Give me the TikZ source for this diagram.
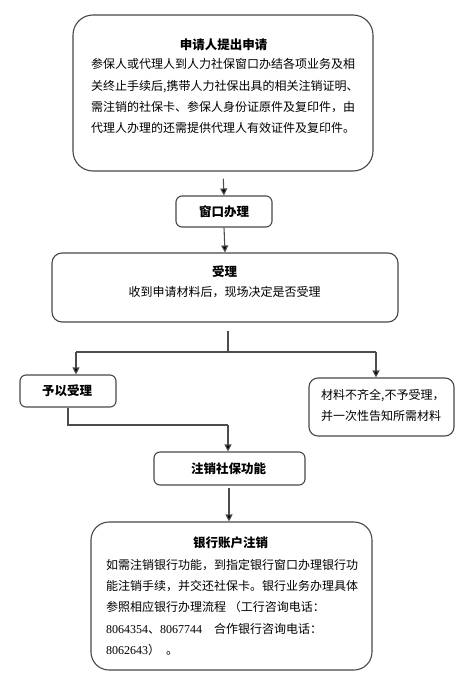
\documentclass[tikz,border=0pt]{standalone}
\usepackage{fontspec}
\setmainfont{Liberation Serif}
\newfontfamily\cjk{Noto Sans CJK SC}
\newfontfamily\tnr{Liberation Serif}
\usetikzlibrary{arrows.meta}
\tikzset{
  box/.style={draw=black!72, line width=1.1bp, rounded corners=#1, inner sep=0pt, fill=white},
  box/.default=6bp,
  arr/.style={draw=black!70, line width=1.1bp, -{Triangle[width=7bp,length=7bp,fill=black]}},
  ln/.style={draw=black!70, line width=1.1bp},
  txt/.style={inner sep=0pt, font=\cjk\fontsize{12bp}{21.3bp}\selectfont, align=left},
  ttl/.style={inner sep=0pt, font=\cjk\bfseries\fontsize{12.5bp}{15bp}\selectfont},
}
\begin{document}
\begin{tikzpicture}[x=1bp,y=-1bp]
\useasboundingbox (0,0) rectangle (468,687);
% boxes
\node[box=20bp, minimum width=300bp, minimum height=156bp] (b1) at (223,93) {};
\node[box=6bp, minimum width=96bp, minimum height=31bp] (b2) at (224,211.5) {};
\node[box=10bp, minimum width=346bp, minimum height=69bp] (b3) at (225,287.5) {};
\node[box=6bp, minimum width=96bp, minimum height=32bp] (bl) at (68,391) {};
\node[box=9bp, minimum width=145bp, minimum height=58bp] (br) at (381.5,407) {};
\node[box=6bp, minimum width=151bp, minimum height=33bp] (bz) at (229.5,468.5) {};
\node[box=18bp, minimum width=281bp, minimum height=148bp] (bb) at (231.5,596) {};
% texts
\node[ttl] (t1) at (223.5,45) {申请人提出申请};
\node[txt, anchor=north west] (p1) at (91,58.5) {参保人或代理人到人力社保窗口办结各项业务及相\\
关终止手续后,携带人力社保出具的相关注销证明、\\
需注销的社保卡、参保人身份证原件及复印件，由\\
代理人办理的还需提供代理人有效证件及复印件。};
\node[ttl] (t2) at (224,211.5) {窗口办理};
\node[ttl] (t3) at (224.5,272) {受理};
\node[txt] (p3) at (224.5,292) {收到申请材料后，现场决定是否受理};
\node[ttl] (tl) at (67,391) {予以受理};
\node[txt, anchor=north west] (pr) at (321,389) {材料不齐全,不予受理，\\并一次性告知所需材料};
\node[ttl] (tz) at (228.5,468.5) {注销社保功能};
\node[ttl] (tb) at (230.5,543) {银行账户注销};
\node[txt, anchor=north west] (pb) at (106,559) {如需注销银行功能，到指定银行窗口办理银行功\\
能注销手续，并交还社保卡。银行业务办理具体\\
参照相应银行办理流程 （工行咨询电话：\\
{\tnr 8064354}、{\tnr 8067744}\hspace{12bp}合作银行咨询电话：\\
{\tnr 8062643}）\hspace{6bp}。};
% connectors
\coordinate (s) at (228,352);
\coordinate (jl) at (76,352);
\coordinate (jr) at (376,352);
\coordinate (m) at (228,425);
\coordinate (e) at (229,500);
\draw[arr, shorten <=7bp] (b1.south) -- (b2.north);
\draw[arr] (b2.south) -- (b3.north);
\draw[ln, shorten <=8bp] (b3.south -| s) -- (s);
\draw[ln] (jl) -- (jr);
\draw[arr] (jl) -- (jl |- bl.north);
\draw[arr] (jr) -- (jr |- br.north);
\draw[ln] (bl.south) |- (m);
\draw[arr] (m) -- (m |- bz.north);
\draw[arr, shorten <=2bp] (bz.south -| e) -- (bb.north -| e);
\end{tikzpicture}
\end{document}
